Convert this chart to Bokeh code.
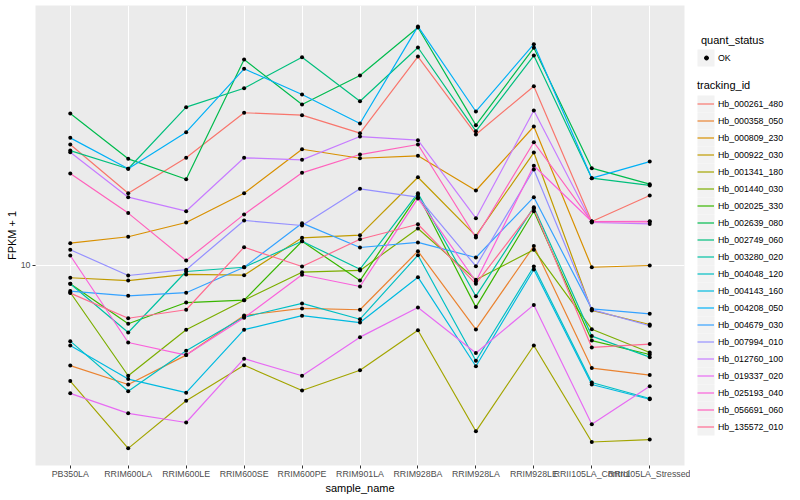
from bokeh.plotting import figure
from bokeh.models import (FactorRange, Range1d, FixedTicker, BasicTickFormatter,
                          Legend, LegendItem)
from bokeh.layouts import row
from bokeh.embed import file_html
from bokeh.resources import INLINE

samples = ["PB350LA", "RRIM600LA", "RRIM600LE", "RRIM600SE", "RRIM600PE", "RRIM901LA",
           "RRIM928BA", "RRIM928LA", "RRIM928LE", "RRII105LA_Control", "RRII105LA_Stressed"]

tracking_ids = ["Hb_000261_480", "Hb_000358_050", "Hb_000809_230", "Hb_000922_030",
                "Hb_001341_180", "Hb_001440_030", "Hb_002025_330", "Hb_002639_080",
                "Hb_002749_060", "Hb_003280_020", "Hb_004048_120", "Hb_004143_160",
                "Hb_004208_050", "Hb_004679_030", "Hb_007994_010", "Hb_012760_100",
                "Hb_019337_020", "Hb_025193_040", "Hb_056691_060", "Hb_135572_010"]

quant_status = ["OK"]
y_ticks = [10]

# FPKM + 1 per sample (order of `samples`)
hb_000261_480 = [20.07, 15.16, 18.59, 24.09, 23.76, 21.42, 33.30, 21.26, 28.07, 12.88, 14.96]
hb_000358_050 = [5.62, 5.04, 5.97, 7.50, 7.81, 7.75, 10.86, 6.92, 11.18, 5.54, 5.32]
hb_000809_230 = [11.37, 11.80, 12.81, 15.16, 19.53, 18.54, 18.80, 15.40, 22.26, 9.90, 10.00]
hb_000922_030 = [9.32, 9.17, 9.50, 9.46, 11.73, 11.91, 16.62, 11.86, 19.16, 7.72, 7.12]
hb_001341_180 = [5.14, 3.49, 4.59, 5.63, 4.87, 5.47, 6.89, 3.85, 6.31, 3.62, 3.67]
hb_001440_030 = [8.56, 5.30, 6.91, 8.19, 9.62, 9.72, 12.37, 9.21, 10.95, 6.93, 6.06]
hb_002025_330 = [9.00, 7.15, 8.08, 8.19, 11.50, 9.17, 15.02, 7.87, 13.67, 6.49, 5.99]
hb_002639_080 = [23.99, 18.48, 16.43, 32.73, 25.26, 29.85, 39.35, 22.43, 35.01, 17.51, 15.97]
hb_002749_060 = [19.38, 17.45, 24.88, 27.75, 33.17, 25.75, 35.07, 21.67, 33.49, 16.53, 15.86]
hb_003280_020 = [9.00, 6.80, 9.66, 9.90, 11.50, 9.79, 15.16, 8.38, 13.99, 6.66, 5.90]
hb_004048_120 = [6.47, 4.85, 6.12, 7.43, 8.04, 7.34, 10.61, 5.78, 9.94, 5.10, 4.65]
hb_004143_160 = [6.31, 5.20, 4.81, 6.91, 7.49, 7.20, 9.35, 5.60, 9.77, 5.04, 4.63]
hb_004208_050 = [20.85, 17.45, 21.54, 31.03, 26.76, 22.65, 39.60, 24.27, 35.75, 16.53, 18.19]
hb_004679_030 = [8.63, 8.40, 8.55, 9.90, 12.76, 11.09, 11.42, 10.47, 14.82, 7.79, 7.57]
hb_007994_010 = [10.95, 9.44, 9.76, 12.96, 12.59, 15.55, 14.82, 9.96, 17.38, 7.76, 7.07]
hb_012760_100 = [19.20, 14.82, 13.67, 18.59, 18.37, 21.01, 20.57, 13.13, 24.41, 12.81, 12.70]
hb_019337_020 = [4.79, 4.27, 4.05, 5.85, 5.30, 6.62, 7.85, 6.04, 7.97, 4.01, 4.99]
hb_025193_040 = [10.59, 6.42, 5.97, 7.40, 9.48, 8.86, 14.71, 9.12, 17.76, 12.88, 12.90]
hb_056691_060 = [16.98, 13.52, 10.29, 13.42, 17.05, 18.94, 20.07, 11.75, 20.33, 12.88, 12.86]
hb_135572_010 = [8.53, 7.38, 7.75, 11.11, 9.94, 11.63, 12.68, 9.00, 13.89, 6.24, 6.36]

series = [hb_000261_480, hb_000358_050, hb_000809_230, hb_000922_030, hb_001341_180,
          hb_001440_030, hb_002025_330, hb_002639_080, hb_002749_060, hb_003280_020,
          hb_004048_120, hb_004143_160, hb_004208_050, hb_004679_030, hb_007994_010,
          hb_012760_100, hb_019337_020, hb_025193_040, hb_056691_060, hb_135572_010]

palette = ["#F8766D", "#EA8331", "#D89000", "#C09B00", "#A3A500", "#7CAE00", "#39B600",
           "#00BB4E", "#00BF7D", "#00C1A3", "#00BFC4", "#00BAE0", "#00B0F6", "#35A2FF",
           "#9590FF", "#C77CFF", "#E76BF3", "#FA62DB", "#FF62BC", "#FF6C91"]

FONT = "Liberation Sans"
TOP = 5            # space above the panel
FRAME_W, FRAME_H = 649, 460
W_LEG = 102

p = figure(frame_width=FRAME_W, frame_height=FRAME_H,
           x_range=FactorRange(factors=samples, range_padding=0.2 / len(samples),
                               range_padding_units="percent"),
           y_axis_type="log", y_range=Range1d(3.162, 44.67),
           min_border_left=35, min_border_right=6, min_border_top=TOP, min_border_bottom=0,
           output_backend="svg", toolbar_location=None,
           background_fill_color="#EBEBEB", border_fill_color="white",
           outline_line_color=None,
           x_axis_label="sample_name", y_axis_label="FPKM + 1")

for vals, col in zip(series, palette):
    p.line(x=samples, y=vals, line_color=col, line_width=1.2)
for vals in series:
    p.scatter(x=samples, y=vals, size=4, fill_color="black", line_color=None)

for ax in (p.xaxis[0], p.yaxis[0]):
    ax.axis_line_color = None
    ax.major_tick_line_color = "#333333"
    ax.major_tick_in = 0
    ax.major_tick_out = 3
    ax.minor_tick_line_color = None
    ax.major_label_text_color = "#4D4D4D"
    ax.major_label_text_font_size = "8.8px"
    ax.major_label_text_font = FONT
    ax.axis_label_text_font = FONT
    ax.axis_label_text_font_size = "11px"
    ax.axis_label_text_font_style = "normal"
    ax.axis_label_text_color = "black"
p.xaxis.major_label_standoff = 0
p.xaxis.axis_label_standoff = 0
p.yaxis.major_label_standoff = 2
p.yaxis.axis_label_standoff = 0
p.yaxis.ticker = FixedTicker(ticks=y_ticks)
p.yaxis.formatter = BasicTickFormatter()
p.xgrid.grid_line_color = "white"
p.xgrid.grid_line_width = 1
p.ygrid.grid_line_color = "white"
p.ygrid.grid_line_width = 1
p.ygrid.ticker = FixedTicker(ticks=y_ticks)

# ---- legend panel (frame aligned with the main panel: screen y TOP..TOP+FRAME_H) ----
BOTTOM = TOP + FRAME_H
lg = figure(width=W_LEG, frame_height=FRAME_H,
            x_range=Range1d(0, W_LEG), y_range=Range1d(BOTTOM, TOP),
            x_axis_location=None, y_axis_location=None,
            min_border_left=0, min_border_right=0, min_border_top=TOP, min_border_bottom=0,
            toolbar_location=None, output_backend="svg", outline_line_color=None,
            background_fill_color="white", border_fill_color="white")
lg.xgrid.visible = False
lg.ygrid.visible = False

KEY = 17
KX = 7
ok_top = 49
trk_top = 95

ok_tops = [ok_top + KEY * i for i in range(len(quant_status))]
trk_tops = [trk_top + KEY * i for i in range(len(tracking_ids))]
lg.quad(left=KX, right=KX + KEY, top=ok_tops, bottom=[t + KEY for t in ok_tops],
        fill_color="#F2F2F2", line_color=None)
lg.quad(left=KX, right=KX + KEY, top=trk_tops, bottom=[t + KEY for t in trk_tops],
        fill_color="#F2F2F2", line_color=None)

nan = float("nan")
ok_r = lg.scatter(x=[nan], y=[nan], size=4, color="black")
line_rs = [lg.line(x=[nan, nan], y=[nan, nan], line_color=c, line_width=1.2) for c in palette]

common = dict(label_height=KEY, label_width=10, padding=0, margin=0, spacing=0,
              background_fill_alpha=0, border_line_color=None,
              label_text_font=FONT, label_text_font_size="8.8px", label_text_color="black",
              title_text_font=FONT, title_text_font_size="11px",
              title_text_font_style="normal", title_text_color="black")

# narrow glyph box for the point key so the legend dot stays small (size = 0.4 * width)
leg1 = Legend(items=[LegendItem(label=s, renderers=[ok_r]) for s in quant_status],
              title="quant_status", title_standoff=3,
              glyph_width=10, glyph_height=KEY, label_standoff=7,
              location=(KX + 4, BOTTOM - (ok_top + KEY * len(quant_status))), **common)
leg2 = Legend(items=[LegendItem(label=t, renderers=[r]) for t, r in zip(tracking_ids, line_rs)],
              title="tracking_id", title_standoff=4,
              glyph_width=KEY, glyph_height=KEY, label_standoff=4,
              location=(KX, BOTTOM - (trk_top + KEY * len(tracking_ids))), **common)
lg.add_layout(leg1)
lg.add_layout(leg2)

layout = row(p, lg)
open("out.html", "w").write(file_html(layout, INLINE))
